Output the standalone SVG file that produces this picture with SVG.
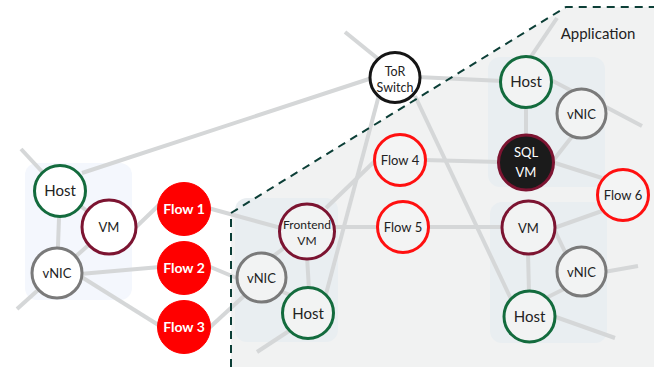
<svg xmlns="http://www.w3.org/2000/svg" width="672" height="367" viewBox="0 0 672 367">
<style>
.e{stroke:#d5d7d8;stroke-width:4;fill:none;stroke-linecap:butt}
.n{stroke-width:3}
.host{stroke:#136b3d}
.vm{stroke:#7c1431}
.vnic{stroke:#7a7a7a}
.tor{stroke:#151515}
.fo{stroke:#ff1010;fill:#f3f4f4}
.ff{fill:#ff0000;stroke:#ff0000}
.wl{fill:#ffffff}
.gl{fill:#f2f3f3}
text{font-family:Lato,"Open Sans","Liberation Sans",sans-serif;fill:#222;text-anchor:middle}
.t15{font-size:15px}
.t13{font-size:13px}
.t12{font-size:12.5px}
.t11{font-size:12px}
.fb{font-size:14px;font-weight:bold;fill:#fff}
.sq{font-size:13px;fill:#fff}
</style>
<g id="app-region">
<polygon points="231,367 231,213 566,7 654,7 654,367" fill="#f1f2f2"/>
<rect x="25" y="163" width="107" height="137" rx="12" fill="#f4f7fd"/>
<rect x="235" y="198" width="103" height="144" rx="12" fill="#e9eef1"/>
<rect x="488" y="57" width="117" height="130" rx="12" fill="#e9eef1"/>
<rect x="490" y="202" width="117" height="141" rx="12" fill="#e9eef1"/>
</g>
<g id="connectors">
<line class="e" x1="21" y1="149" x2="60" y2="191"/>
<line class="e" x1="17" y1="309" x2="57" y2="273"/>
<line class="e" x1="82" y1="173" x2="372" y2="78"/>
<line class="e" x1="60" y1="191" x2="109" y2="227"/>
<line class="e" x1="60" y1="191" x2="57" y2="273"/>
<line class="e" x1="57" y1="273" x2="109" y2="227"/>
<line class="e" x1="134" y1="229" x2="160" y2="204"/>
<line class="e" x1="80" y1="274" x2="160" y2="267"/>
<line class="e" x1="80" y1="276" x2="160" y2="326"/>
<line class="e" x1="208" y1="208" x2="281" y2="228"/>
<line class="e" x1="208" y1="266" x2="239" y2="279"/>
<line class="e" x1="208" y1="329" x2="245" y2="295"/>
<line class="e" x1="272" y1="257" x2="292" y2="242"/>
<line class="e" x1="307" y1="256" x2="309" y2="290"/>
<line class="e" x1="278" y1="290" x2="295" y2="297"/>
<line class="e" x1="292" y1="329" x2="257" y2="352"/>
<line class="e" x1="345" y1="32" x2="382" y2="62"/>
<line class="e" x1="379" y1="95" x2="326" y2="294"/>
<line class="e" x1="415" y1="96" x2="511" y2="299"/>
<line class="e" x1="417" y1="77" x2="503" y2="81"/>
<line class="e" x1="378" y1="158" x2="326" y2="208"/>
<line class="e" x1="424" y1="160" x2="500" y2="162"/>
<line class="e" x1="332" y1="227" x2="380" y2="227"/>
<line class="e" x1="426" y1="227" x2="503" y2="227"/>
<line class="e" x1="530" y1="58" x2="557" y2="18"/>
<line class="e" x1="549" y1="79" x2="572" y2="91"/>
<line class="e" x1="604" y1="106" x2="642" y2="126"/>
<line class="e" x1="526" y1="105" x2="526" y2="137"/>
<line class="e" x1="574" y1="134" x2="552" y2="162"/>
<line class="e" x1="552" y1="162" x2="602" y2="178"/>
<line class="e" x1="602" y1="211" x2="554" y2="228"/>
<line class="e" x1="554" y1="229" x2="567" y2="256"/>
<line class="e" x1="604" y1="272" x2="638" y2="266"/>
<line class="e" x1="528" y1="252" x2="529" y2="293"/>
<line class="e" x1="544" y1="299" x2="566" y2="288"/>
<line class="e" x1="553" y1="316" x2="615" y2="338"/>
</g>
<path id="boundary" d="M231,367 L231,213 L566,7 L654,7" fill="none" stroke="#0c3f37" stroke-width="2" stroke-dasharray="8,6"/>
<text class="t15" x="598" y="39">Application</text>
<g id="host-left"><circle class="n host wl" cx="60" cy="191" r="25.5"/><text class="t15" x="60" y="196">Host</text></g>
<g id="vm-left"><circle class="n vm wl" cx="109" cy="227" r="27"/><text class="t13" x="109" y="232">VM</text></g>
<g id="vnic-left"><circle class="n vnic wl" cx="57" cy="273" r="25"/><text class="t13" x="57" y="278">vNIC</text></g>
<g id="flow1"><circle class="ff" cx="184" cy="209" r="26.5"/><text class="fb" x="184" y="214">Flow 1</text></g>
<g id="flow2"><circle class="ff" cx="184" cy="268" r="26.5"/><text class="fb" x="184" y="273">Flow 2</text></g>
<g id="flow3"><circle class="ff" cx="184" cy="327" r="26.5"/><text class="fb" x="184" y="332">Flow 3</text></g>
<g id="tor-switch"><circle class="n tor wl" cx="395" cy="77.5" r="25"/><text class="t12" x="395" y="75.5">ToR</text><text class="t12" x="395" y="91.5">Switch</text></g>
<g id="flow4"><circle class="n fo" cx="400" cy="160" r="25.5"/><text class="t13" x="400" y="165">Flow 4</text></g>
<g id="flow5"><circle class="n fo" cx="403" cy="227" r="25.5"/><text class="t13" x="403" y="232">Flow 5</text></g>
<g id="flow6"><circle class="n fo" cx="623" cy="195" r="25.5"/><text class="t13" x="623" y="200">Flow 6</text></g>
<g id="frontend-vm"><circle class="n vm gl" cx="307" cy="231.5" r="27.5"/><text class="t11" x="307" y="229">Frontend</text><text class="t11" x="307" y="245">VM</text></g>
<g id="vnic-frontend"><circle class="n vnic gl" cx="261.5" cy="277.5" r="24.5"/><text class="t13" x="261.5" y="282.5">vNIC</text></g>
<g id="host-frontend"><circle class="n host gl" cx="308" cy="313" r="25.5"/><text class="t15" x="308" y="318.5">Host</text></g>
<g id="host-app"><circle class="n host gl" cx="526" cy="82" r="25.5"/><text class="t15" x="526" y="87">Host</text></g>
<g id="vnic-app"><circle class="n vnic gl" cx="581.5" cy="113.5" r="24.5"/><text class="t13" x="581.5" y="118.5">vNIC</text></g>
<g id="sql-vm"><circle class="n vm" cx="526" cy="162.5" r="27.5" fill="#1b1b1b"/><text class="sq" x="526" y="157">SQL</text><text class="sq" x="526" y="177">VM</text></g>
<g id="vm-app2"><circle class="n vm gl" cx="528.5" cy="227.5" r="26.5"/><text class="t13" x="528.5" y="232.5">VM</text></g>
<g id="vnic-app2"><circle class="n vnic gl" cx="581.5" cy="271.5" r="24.5"/><text class="t13" x="581.5" y="276.5">vNIC</text></g>
<g id="host-app2"><circle class="n host gl" cx="529.5" cy="316.5" r="25.5"/><text class="t15" x="529.5" y="322">Host</text></g>
</svg>
